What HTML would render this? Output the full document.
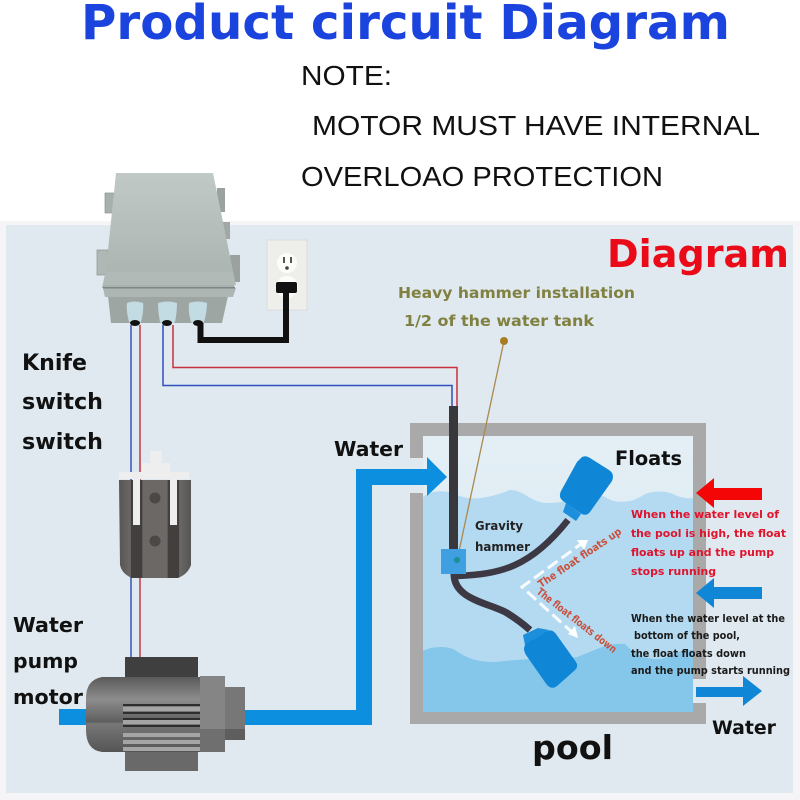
<!DOCTYPE html>
<html><head><meta charset="utf-8"><style>
html,body{margin:0;padding:0;background:#fff}
svg{display:block}
text{font-family:"DejaVu Sans",sans-serif;font-weight:bold}
text.note{font-family:"Liberation Sans",sans-serif;font-weight:normal}
</style></head><body>
<svg width="800" height="800" viewBox="0 0 800 800" xmlns="http://www.w3.org/2000/svg">
<defs>
<linearGradient id="sky" x1="0" y1="0" x2="0" y2="1"><stop offset="0" stop-color="#e4eff5"/><stop offset="1" stop-color="#d5e7f2"/></linearGradient>
<linearGradient id="lid" x1="0" y1="0" x2="0" y2="1"><stop offset="0" stop-color="#c0c9c5"/><stop offset="1" stop-color="#a9b2af"/></linearGradient>
<linearGradient id="cyl" x1="0" y1="0" x2="0" y2="1"><stop offset="0" stop-color="#5a5a5a"/><stop offset=".3" stop-color="#8d8d8d"/><stop offset=".6" stop-color="#5e5e5e"/><stop offset=".62" stop-color="#777"/><stop offset="1" stop-color="#555"/></linearGradient>
<linearGradient id="sw" x1="0" y1="0" x2="1" y2="0"><stop offset="0" stop-color="#555"/><stop offset=".16" stop-color="#6b6866"/><stop offset=".17" stop-color="#423f3e"/><stop offset=".32" stop-color="#423f3e"/><stop offset=".33" stop-color="#6b6866"/><stop offset=".67" stop-color="#6b6866"/><stop offset=".68" stop-color="#423f3e"/><stop offset=".83" stop-color="#423f3e"/><stop offset=".84" stop-color="#6b6866"/><stop offset="1" stop-color="#555"/></linearGradient>
</defs>
<rect width="800" height="800" fill="#fff"/>
<rect x="0" y="221" width="800" height="579" fill="#f5f5f7"/>
<rect x="6" y="225" width="787" height="568" fill="#dfe9ef"/>

<!-- title and note -->
<text x="81" y="39" font-size="48.3" fill="#1a44dd" textLength="649" lengthAdjust="spacingAndGlyphs">Product circuit Diagram</text>
<g fill="#111" font-size="28">
<text class="note" x="301" y="85" textLength="91" lengthAdjust="spacingAndGlyphs">NOTE:</text>
<text class="note" x="312" y="135" textLength="448" lengthAdjust="spacingAndGlyphs">MOTOR MUST HAVE INTERNAL</text>
<text class="note" x="301" y="186" textLength="362" lengthAdjust="spacingAndGlyphs">OVERLOAO PROTECTION</text>
</g>
<text x="607" y="267" font-size="38" fill="#ea0a18" textLength="182" lengthAdjust="spacingAndGlyphs">Diagram</text>
<text x="398" y="298" font-size="15" fill="#808040" textLength="237" lengthAdjust="spacingAndGlyphs">Heavy hammer installation</text>
<text x="404" y="326" font-size="15" fill="#808040" textLength="190" lengthAdjust="spacingAndGlyphs">1/2 of the water tank</text>

<!-- side labels -->
<g font-size="22" fill="#111">
<text x="22" y="370" textLength="65" lengthAdjust="spacingAndGlyphs">Knife</text>
<text x="22" y="409" textLength="81" lengthAdjust="spacingAndGlyphs">switch</text>
<text x="22" y="449" textLength="81" lengthAdjust="spacingAndGlyphs">switch</text>
</g>
<g font-size="20.500" fill="#111">
<text x="13" y="632" textLength="70" lengthAdjust="spacingAndGlyphs">Water</text>
<text x="13" y="668" textLength="65" lengthAdjust="spacingAndGlyphs">pump</text>
<text x="13" y="704" textLength="70" lengthAdjust="spacingAndGlyphs">motor</text>
<text x="334" y="456" font-size="20" textLength="69" lengthAdjust="spacingAndGlyphs">Water</text>
<text x="712" y="734" font-size="19" textLength="64" lengthAdjust="spacingAndGlyphs">Water</text>
</g>
<text x="532" y="759" font-size="33" fill="#111" textLength="81" lengthAdjust="spacingAndGlyphs">pool</text>

<!-- tank -->
<rect x="423" y="436" width="270" height="276" fill="url(#sky)"/>
<path d="M423 497 C432 490 445 490 455 494 C470 502 490 498 510 490 C525 490 530 503 548 503 C575 503 590 490 605 497 C615 504 630 503 640 497 C650 490 665 490 675 495 C682 498 688 499 693 498 L693 712 L423 712Z" fill="#b3daf0"/>
<path d="M423 651 C430 647 445 645 455 650 C468 660 485 664 505 661 C530 658 550 660 577 657 C595 650 610 642 625 644 C635 655 650 662 665 658 C675 652 685 650 693 650 L693 712 L423 712Z" fill="#84c7eb"/>
<path d="M423 458 V436 H693 V679 H706 V423 H410 V458Z" fill="#a9a9a9"/>
<path d="M410 493 H423 V712 H693 V703 H706 V724 H410Z" fill="#a9a9a9"/>

<!-- pipe -->
<rect x="59" y="709" width="30" height="16" fill="#0d8fe0"/>
<path d="M240 710 H356 V469 H427 V457 L447 477 L427 496 V485 H372 V725 H240Z" fill="#0d8fe0"/>

<!-- brown line and cable -->
<line x1="504" y1="341" x2="458" y2="556" stroke="#a98a4f" stroke-width="1.3"/>
<circle cx="504" cy="341" r="4" fill="#a87d22"/>
<path d="M131 325 V657" stroke="#3a55b5" stroke-width="1.500" fill="none"/>
<path d="M140 325 V657" stroke="#c33a48" stroke-width="1.500" fill="none"/>
<path d="M163 325 V385.500 H452 V406" stroke="#2f50c0" stroke-width="1.500" fill="none"/>
<path d="M173 325 V367.500 H457 V406" stroke="#c8303f" stroke-width="1.500" fill="none"/>
<rect x="449" y="406" width="9" height="143" fill="#38383c"/>

<!-- floats -->
<path d="M457 576 C500 574 530 568 568 520" stroke="#3c3844" stroke-width="6.500" fill="none"/>
<path d="M454 574 C454 600 490 603 507 613 C515 618 522 623 530 630" stroke="#3c3844" stroke-width="7" fill="none"/>
<path d="M566 503 L581 514 L576 521 L563 512Z" fill="#1c8edb"/>
<path d="M582 457 Q586 455 590 458 L609 470 Q615 474 612 481 L590 512 Q586 517 580 513 L563 501 Q558 497 561 491 L577 462Z" fill="#0f86d6"/>
<path d="M523 635 L538 628 L549 630 L526 650Z" fill="#1c8edb"/>
<path d="M526 644 L548 631 Q552 629 556 634 L576 662 Q579 667 574 671 L557 686 Q552 690 547 685 L526 655 Q522 648 526 644Z" fill="#0f86d6"/>
<rect x="441" y="549" width="25" height="25" fill="#3f9fe0"/>
<circle cx="457" cy="560" r="3" fill="#1b8f98"/>
<text x="475" y="530" font-size="12" fill="#222" textLength="48" lengthAdjust="spacingAndGlyphs">Gravity</text>
<text x="475" y="551" font-size="12" fill="#222" textLength="55" lengthAdjust="spacingAndGlyphs">hammer</text>
<text x="615" y="465" font-size="19.500" fill="#111" textLength="67" lengthAdjust="spacingAndGlyphs">Floats</text>

<!-- dashed arrows -->
<path d="M585 541 L522 587 L574 634" fill="none" stroke="#fff" stroke-width="3" stroke-dasharray="12 5" opacity=".9"/>
<path d="M588 540 L577 540 L584 550Z" fill="#fff"/>
<path d="M578 638 L568 634 L575 626Z" fill="#fff"/>
<text transform="translate(541 588) rotate(-34)" font-size="10.500" fill="#c9503d" textLength="98" lengthAdjust="spacingAndGlyphs">The float floats up</text>
<text transform="translate(536 593) rotate(38)" font-size="10.500" fill="#c9503d" textLength="98" lengthAdjust="spacingAndGlyphs">The float floats down</text>

<!-- flow arrows -->
<path d="M696 493 L714 478 V488 H762 V500 H714 V508Z" fill="#f40606"/>
<path d="M696 593 L714 578 V587 H762 V599 H714 V608Z" fill="#0f86d6"/>
<path d="M696 687 H743 V676 L762 691 L743 706 V697 H696Z" fill="#0f86d6"/>

<!-- explanation -->
<g font-size="11" fill="#e0122c">
<text x="631" y="518" textLength="148" lengthAdjust="spacingAndGlyphs">When the water level of</text>
<text x="631" y="537" textLength="155" lengthAdjust="spacingAndGlyphs">the pool is high, the float</text>
<text x="631" y="556" textLength="143" lengthAdjust="spacingAndGlyphs">floats up and the pump</text>
<text x="631" y="575" textLength="85" lengthAdjust="spacingAndGlyphs">stops running</text>
</g>
<g font-size="10.500" fill="#1a1a1a">
<text x="631" y="622" textLength="154" lengthAdjust="spacingAndGlyphs">When the water level at the</text>
<text x="634" y="639" textLength="106" lengthAdjust="spacingAndGlyphs">bottom of the pool,</text>
<text x="631" y="657" textLength="115" lengthAdjust="spacingAndGlyphs">the float floats down</text>
<text x="631" y="674" textLength="159" lengthAdjust="spacingAndGlyphs">and the pump starts running</text>
</g>

<!-- control box -->
<rect x="105" y="193" width="9" height="20" fill="#a8b0ad" stroke="#8d9592" stroke-width=".7"/>
<rect x="97" y="250" width="11" height="25" fill="#b0b8b5" stroke="#8d9592" stroke-width=".7"/>
<rect x="217" y="188" width="8" height="24" fill="#9aa19e"/>
<rect x="223" y="222" width="7" height="17" fill="#a0a7a4"/>
<rect x="230" y="255" width="10" height="27" fill="#9aa19e"/>
<path d="M108 296 H228 L222 323 H111Z" fill="#9ea6a3"/>
<path d="M116 173 H213 L235 281 L234 288 H102 L106 270Z" fill="url(#lid)"/>
<path d="M106 272 H233 L236 285 H103Z" fill="#b1bab6"/>
<path d="M103 288 H236 L233 297 H105Z" fill="#aeb6b3"/>
<rect x="103" y="287" width="132" height="1.500" fill="#7f8785"/>
<path d="M127 303 Q134 300 143 303 Q144 310 141 322 Q135 327 129 322 Q126 310 127 303Z" fill="#c3dbe3"/>
<path d="M158 303 Q168 300 177 303 Q177 312 175 322 Q167 327 160 322 Q158 312 158 303Z" fill="#c3dbe3"/>
<path d="M189 303 Q198 300 207 303 Q207 312 204 322 Q197 327 191 322 Q188 312 189 303Z" fill="#c3dbe3"/>
<ellipse cx="135" cy="323" rx="5" ry="3" fill="#111"/>
<ellipse cx="167" cy="323" rx="5" ry="3" fill="#111"/>
<ellipse cx="198" cy="323" rx="5" ry="3" fill="#111"/>

<!-- outlet -->
<rect x="267" y="240" width="40" height="70" fill="#eeeeea" stroke="#d8d8d6" stroke-width=".8"/>
<circle cx="287" cy="263" r="10" fill="#fbfbf8"/>
<circle cx="287" cy="287" r="11" fill="#fbfbf8"/>
<rect x="283" y="257" width="2" height="6" fill="#555"/>
<rect x="290" y="257" width="2" height="6" fill="#555"/>
<circle cx="287" cy="268" r="1.800" fill="#444"/>
<rect x="276" y="282" width="21" height="11" rx="2" fill="#111"/>
<path d="M200.500 323 V340 H286 V288" fill="none" stroke="#111" stroke-width="6"/>

<!-- knife switch -->
<path d="M119 480 H191 V565 Q188 574 178 578 H132 Q122 574 120 565Z" fill="url(#sw)"/>
<path d="M119 472 H142 V463 H150 V451 H162 V463 H170 V472 H189 V479 H177 V525 H170 V479 H140 V525 H133 V479 H119Z" fill="#eeeeee"/>
<circle cx="155" cy="498" r="5.500" fill="#4b4846"/>
<circle cx="155" cy="541" r="5.500" fill="#4b4846"/>

<!-- motor -->
<rect x="125" y="657" width="73" height="21" fill="#3f3f3f"/>
<rect x="125" y="752" width="73" height="19" fill="#696969"/>
<path d="M123 677 H102 Q86 680 86 698 V730 Q86 750 102 752 H123Z" fill="url(#cyl)"/>
<rect x="123" y="677" width="77" height="75" fill="url(#cyl)"/>
<rect x="200" y="676" width="25" height="76" fill="#858585"/>
<rect x="200" y="729" width="25" height="23" fill="#6f6f6f"/>
<rect x="225" y="687" width="20" height="53" fill="#777"/>
<rect x="225" y="729" width="20" height="11" fill="#5e5e5e"/>
<g fill="#2e2e2e"><rect x="123" y="704" width="77" height="2"/><rect x="123" y="712" width="77" height="2"/><rect x="123" y="718" width="77" height="2"/><rect x="123" y="725" width="77" height="2"/></g>
<g fill="#a5a5a5"><rect x="123" y="707" width="77" height="4"/><rect x="123" y="720" width="77" height="4"/><rect x="123" y="733" width="77" height="4"/><rect x="123" y="740" width="77" height="4"/><rect x="123" y="747" width="77" height="4"/></g>
</svg>
</body></html>
